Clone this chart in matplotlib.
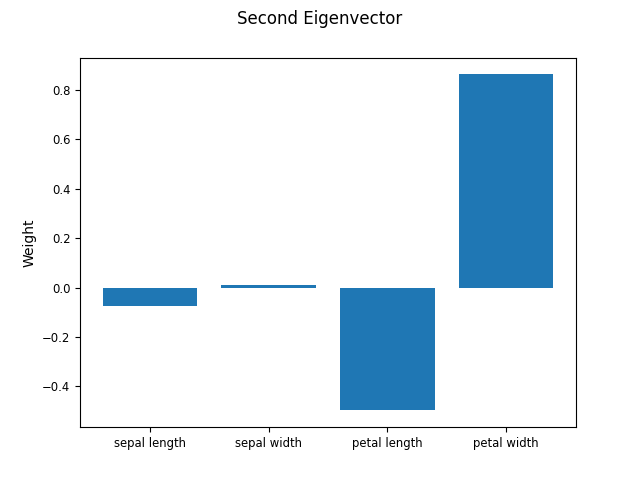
import matplotlib
matplotlib.use("Agg")
from matplotlib import pyplot as plt

features = ["sepal length", "sepal width", "petal length", "petal width"]
weights = [-0.075, 0.012, -0.497, 0.862]

fig, ax = plt.subplots(figsize=(6.4, 4.8), dpi=100)
ax.bar(features, weights)
ax.set_ylabel("Weight")
ax.tick_params(labelsize="small")
fig.suptitle("Second Eigenvector")
fig.savefig("out.png")
